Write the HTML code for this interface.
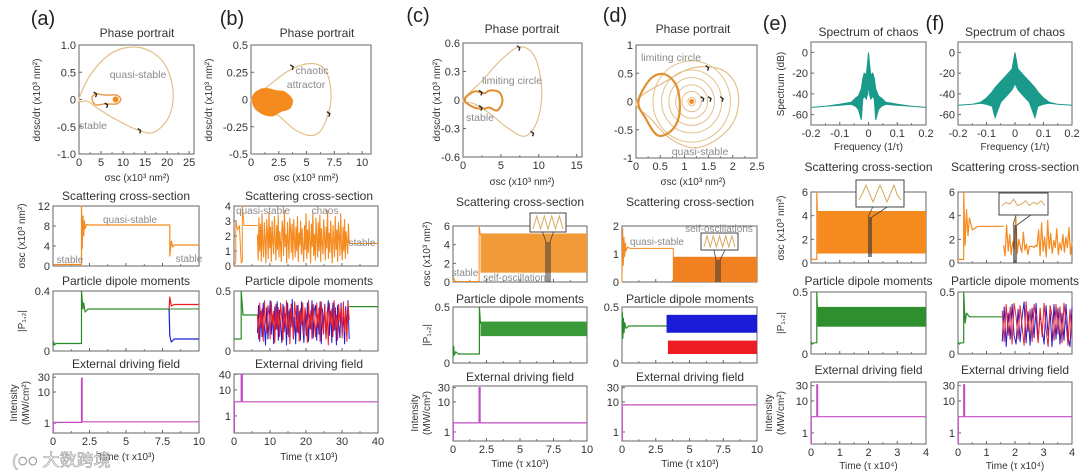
<!DOCTYPE html>
<html><head><meta charset="utf-8">
<style>
html,body{margin:0;padding:0;background:#fff;}
svg{display:block;font-family:"Liberation Sans","Noto Sans CJK SC",sans-serif;}
</style></head>
<body>
<svg id="fig" width="1080" height="475" viewBox="0 0 1080 475" xmlns="http://www.w3.org/2000/svg">
<rect width="1080" height="475" fill="#fff"/>
</svg>
<script>
// ---------- DATA ----------
const aLoopX=[0,3,8,14,19,21.3,20.5,17,13,8,4,2];
const aLoopY=[0,0.5,0.88,0.95,0.7,0.2,-0.3,-0.6,-0.55,-0.35,-0.15,-0.03];
const aSmallX=[3,4,6,8.5,9.5,8.5,6,4,3.2];
const aSmallY=[0.05,0.1,0.08,0.08,0,-0.08,-0.08,-0.1,-0.05];
const bLoopX=[0,1.5,3.5,5.5,6.8,7.2,6.5,5.5,4,2.5,1];
const bLoopY=[0,0.12,0.27,0.33,0.25,0.0,-0.25,-0.33,-0.28,-0.15,-0.05];
const bBlobX=[0.15,0.8,1.5,2.3,3.0,3.7,3.5,2.7,1.9,1.0,0.3];
const bBlobY=[0.03,0.09,0.1,0.08,0.07,0.0,-0.08,-0.11,-0.15,-0.13,-0.07];
const cLoopX=[0,2.5,5,7.5,9.5,10.4,9.8,8.2,6,3.5,1.5];
const cLoopY=[0,0.2,0.42,0.56,0.45,0.1,-0.22,-0.38,-0.3,-0.14,-0.04];
const cLimX=[0.2,1.5,2.8,3.5,4.8,5.2,4.5,3.5,2.8,1.5];
const cLimY=[0,0.09,0.07,0.1,0.08,-0.02,-0.11,-0.08,-0.09,-0.08];
const dLoopX=[0,0.6,1.2,1.8,2.1,2.05,1.7,1.2,0.7,0.3];
const dLoopY=[0,0.35,0.6,0.55,0.2,-0.3,-0.65,-0.82,-0.65,-0.3];
const dLimX=[0.05,0.3,0.6,0.85,0.9,0.75,0.45,0.2];
const dLimY=[0,0.4,0.48,0.25,-0.2,-0.5,-0.6,-0.3];
const dRings=[0.08,0.2,0.33,0.47,0.62,0.8];
const eF=[-0.2,-0.15,-0.1,-0.06,-0.045,-0.035,-0.025,-0.02,-0.015,-0.008,-0.003,0,0.003,0.008,0.015,0.02,0.025,0.035,0.045,0.06,0.1,0.15,0.2];
const eUp=[-53,-52,-50,-48,-44,-42,-35,-25,-20,-22,-10,0,-10,-22,-20,-25,-35,-42,-44,-48,-50,-52,-53];
const eLo=[-53,-52,-51,-50,-52,-55,-65,-45,-42,-45,-40,-30,-40,-45,-42,-45,-65,-55,-52,-50,-51,-52,-53];
const fF=[-0.2,-0.15,-0.12,-0.1,-0.08,-0.07,-0.05,-0.03,-0.01,0,0.01,0.03,0.05,0.07,0.08,0.1,0.12,0.15,0.2];
const fUp=[-51,-50,-48,-44,-38,-34,-28,-22,-16,0,-16,-22,-28,-34,-38,-44,-48,-50,-51];
const fLo=[-51,-50,-49,-50,-52,-63,-48,-42,-36,-30,-36,-42,-48,-63,-52,-50,-49,-50,-51];
const aScT=[0,1.95,1.95,2.0,2.05,2.1,2.15,2.2,2.3,2.5,8.0,8.0,8.1,8.2,8.3,10];
const aScV=[0.3,0.3,12,3.5,10,6,9,7.5,8.3,8.2,8.2,2,5,3.8,4.2,4.2];
const aPT=[0,0.05,0.1,0.2,1.95,1.95,2.05,2.1,2.2,2.4,7.95];
const aPV=[0.03,0.06,0.04,0.05,0.05,0.4,0.28,0.32,0.26,0.28,0.28];
const aRedT=[7.95,8.0,8.1,8.3,10];const aRedV=[0.28,0.36,0.3,0.31,0.31];
const aBluT=[7.95,8.0,8.1,8.3,10];const aBluV=[0.28,0.1,0.06,0.08,0.08];
const aFT=[0,0.02,0.02,1.95,1.95,2.0,2.0,10];const aFV=[0.5,0.5,1.05,1.05,28,28,1.1,1.1];
const bScT=[0,0.5,0.5,1,1.5,2,2.3,2.3,2.8,6.5];const bScV=[0,0.3,3,2.4,2.7,0.2,0.3,4,2.7,2.7];
const bChaos=[2.1,0.4,3.2,1.0,2.8,0.3,3.5,1.4,0.6,2.9,1.8,0.2,3.1,2.2,0.5,3.6,1.2,2.6,0.3,3.0,1.7,0.8,3.3,2.0,0.4,2.7,1.1,3.4,0.6,2.3,1.5,0.3,3.0,2.5,0.7,3.7,1.3,2.1,0.2,2.9,1.6,0.5,3.2,2.4,0.9,2.8,0.4,3.1,1.9,0.6,2.6,1.0,3.3,0.3,2.2,1.4,3.0,0.8,2.5,1.2,
 0.3,2.7,1.1,3.5,0.5,2.4,0.9,3.0,1.6,0.2,2.8,1.3,3.6,0.7,2.1,0.4,3.2,1.8,0.6,2.9,1.0,3.4,0.3,2.5,1.5,0.8,3.1,2.0,0.4,2.6,1.2,3.7,0.5,2.2,0.9,3.0,1.4,0.2,2.7,1.7,0.6,3.3,1.1,2.4,0.3,2.9,1.9,0.7,3.5,1.3,0.4,2.6,1.0,3.1,0.5,2.3,1.6,0.8,2.8,1.5];
const bTailT=[32,40];const bTailV=[1.5,1.5];
const bPT=[0,2,2,2.5,6.5];const bPV=[0.1,0.1,0.5,0.3,0.3];
const bPTailT=[32,40];const bPTailV=[0.37,0.37];
const bRed=[0.3,0.1,0.4,0.2,0.35,0.08,0.42,0.25,0.15,0.38,0.3,0.1,0.41,0.22,0.33,0.07,0.39,0.18,0.36,0.12,0.4,0.28,0.09,0.37,0.2,0.42,0.14,0.33,0.06,0.39,0.25,0.11,0.41,0.3,0.16,0.38,0.08,0.35,0.22,0.4,0.13,0.36,0.27,0.07,0.42,0.19,0.34,0.1,0.39,0.24,
 0.12,0.4,0.2,0.36,0.08,0.41,0.27,0.14,0.38,0.1,0.33,0.05,0.4,0.22,0.35,0.12,0.42,0.18,0.3,0.09,0.39,0.24,0.37,0.11,0.41,0.16,0.34,0.08,0.4,0.26];
const bBlue=[0.15,0.38,0.08,0.33,0.12,0.4,0.2,0.05,0.36,0.1,0.25,0.42,0.14,0.3,0.06,0.37,0.18,0.41,0.09,0.34,0.22,0.07,0.39,0.16,0.31,0.05,0.4,0.12,0.35,0.2,0.43,0.1,0.28,0.06,0.38,0.15,0.33,0.09,0.41,0.21,0.07,0.36,0.13,0.4,0.08,0.3,0.18,0.42,0.11,0.34,
 0.38,0.09,0.3,0.14,0.41,0.06,0.35,0.2,0.39,0.1,0.28,0.42,0.13,0.33,0.07,0.4,0.17,0.36,0.05,0.38,0.22,0.11,0.4,0.15,0.31,0.06,0.37,0.19,0.42,0.1];
const bFT=[0,0.1,0.1,2,2,2.3,2.3,40];const bFV=[0.25,0.25,3.5,3.5,40,40,3.5,3.5];
const cScT=[0,0.05,0.15,0.3,1.95,1.95,2.05];const cScV=[0,0.4,0.1,0.05,0.05,6,5];
const cScBand=[2.05,10,1.0,5.2];
const cPT=[0,0.05,0.1,0.2,0.4,1.97,1.97,2.05];const cPV=[0.05,0.15,0.07,0.1,0.08,0.08,0.5,0.35];
const cPBand=[2.05,10,0.24,0.37];
const cFT=[0,0.02,0.02,1.95,1.95,2.02,2.02,10];const cFV=[0.5,0.5,2,2,30,30,2,2];
const dScT=[0,0.05,0.1,0.15,0.2,0.25,0.3,0.4,0.6,3.8,3.8];const dScV=[0,1.9,0.6,1.6,0.9,1.4,1.1,1.25,1.2,1.2,0];
const dScBand=[3.8,10,0,0.9];
const dPT=[0,0.03,0.06,0.1,0.15,0.2,0.3,0.5,3.3];const dPV=[0.3,0.45,0.22,0.4,0.27,0.36,0.31,0.33,0.33];
const dBlueBand=[3.3,10,0.27,0.43];const dRedBand=[3.4,10,0.08,0.2];
const dFT=[0,0.02,0.02,10];const dFV=[0.5,0.5,8,8];
const eScT=[0,0.2,0.2,0.22];const eScV=[0.3,0.3,6,4.4];
const eScBand=[0.22,4,0.8,4.4];
const ePT=[0,0.05,0.1,0.2,0.2,0.22];const ePV=[0.1,0.08,0.09,0.09,0.5,0.38];
const ePBand=[0.22,4,0.22,0.38];
const eFT=[0,0.01,0.01,0.2,0.2,0.23,0.23,4];const eFV=[0.45,0.45,3.2,3.2,32,32,3.2,3.2];
const fScT=[0,0.2,0.2,0.25,0.3,0.35,0.4,0.5,0.7,1.6];const fScV=[0.3,0.3,6,1.5,4.5,2.3,3.8,2.8,3.1,3.1];
const fChaos=[1.5,0.6,3.2,1.0,2.4,0.7,1.8,1.2,3.9,0.8,2.0,1.4,0.9,2.6,1.1,1.6,0.7,1.4,1.4,1.4,1.3,1.5,1.4,2.8,0.6,3.4,1.0,2.2,0.5,3.6,1.2,2.5,0.8,1.9,1.3,2.9,0.7,1.7,1.1,2.4,0.9,2.2,1.3,3.0,0.7,1.8];
const fPT=[0,0.05,0.1,0.2,0.2,0.25,0.3,0.4,1.55];const fPV=[0.1,0.08,0.09,0.09,0.5,0.25,0.33,0.3,0.3];
const fRed=[0.35,0.1,0.4,0.15,0.38,0.08,0.41,0.3,0.12,0.39,0.22,0.07,0.42,0.18,0.36,0.1,0.4,0.28,0.09,0.37,0.14,0.41,0.2,0.06,0.39,0.31,0.11,0.4,0.16,0.38,0.09,0.41,0.25,0.07,0.36,0.12];
const fBlue=[0.1,0.38,0.06,0.33,0.12,0.4,0.15,0.08,0.36,0.1,0.3,0.42,0.09,0.34,0.07,0.37,0.13,0.41,0.1,0.32,0.2,0.08,0.39,0.15,0.35,0.06,0.4,0.12,0.37,0.08,0.33,0.11,0.4,0.14,0.06,0.38];
const fFT=[0,0.01,0.01,0.2,0.2,0.23,0.23,4];const fFV=[0.45,0.45,3.2,3.2,32,32,3.2,3.2];

// ---------- DRAWING ----------
const NS='http://www.w3.org/2000/svg';
const svg=document.getElementById('fig');
function mk(tag,name,attrs){
  const e=document.createElementNS(NS,tag);
  
  
  for(const k in attrs) e.setAttribute(k,attrs[k]);
  svg.appendChild(e);return e;
}
function txt(s,x,y,size,name,opt){
  opt=opt||{};
  const e=mk('text',name,{x:x,y:y,'font-size':size,fill:opt.fill||'#333','text-anchor':opt.anchor||'middle'});
  if(opt.rot) e.setAttribute('transform','rotate(-90 '+x+' '+y+')');
  if(opt.stroke){e.setAttribute('stroke',opt.stroke);e.setAttribute('stroke-width','0.6');}
  e.textContent=s;return e;
}
function axes(name,b,xr,yr,xt,xl,yt,yl,log,showX){
  const X=v=>b[0]+(v-xr[0])/(xr[1]-xr[0])*(b[2]-b[0]);
  const Y=log?(v=>b[3]-(Math.log10(v)-Math.log10(yr[0]))/(Math.log10(yr[1])-Math.log10(yr[0]))*(b[3]-b[1]))
            :(v=>b[3]-(v-yr[0])/(yr[1]-yr[0])*(b[3]-b[1]));
  mk('rect',name+'-frame',{x:b[0],y:b[1],width:b[2]-b[0],height:b[3]-b[1],fill:'none',stroke:'#666','stroke-width':1});
  xt.forEach((v,i)=>{
    const x=X(v);
    mk('line',name+'-x-tick',{x1:x,x2:x,y1:b[3],y2:b[3]-3,stroke:'#666','stroke-width':1});
    if(i<xt.length-1){const xm=X((v+xt[i+1])/2);mk('line',name+'-x-minor-tick',{x1:xm,x2:xm,y1:b[3],y2:b[3]-2,stroke:'#666','stroke-width':0.8});}
    if(showX) txt(xl[i],x,b[3]+12,11,name+'-x-tick-label');
  });
  yt.forEach((v,i)=>{
    const y=Y(v);
    mk('line',name+'-y-tick',{x1:b[0],x2:b[0]+3,y1:y,y2:y,stroke:'#666','stroke-width':1});
    txt(yl[i],b[0]-3,y+4,11,name+'-y-tick-label',{anchor:'end'});
  });
  return {X,Y,b};
}
function line(ax,ts,vs,color,w,name){
  const d=ts.map((t,i)=>(i?'L':'M')+ax.X(t).toFixed(1)+','+ax.Y(vs[i]).toFixed(1)).join('');
  mk('path',name,{d:d,fill:'none',stroke:color,'stroke-width':w,'stroke-linejoin':'round'});
}
function seq(ax,t0,t1,vs,color,w,name){
  const ts=vs.map((v,i)=>t0+(t1-t0)*i/(vs.length-1));
  line(ax,ts,vs,color,w,name);
}
function band(ax,bd,color,name){
  mk('rect',name,{x:ax.X(bd[0]),y:ax.Y(bd[3]),width:ax.X(bd[1])-ax.X(bd[0]),height:ax.Y(bd[2])-ax.Y(bd[3]),fill:color});
}
function smooth(ax,xs,ys,color,w,name,fill){
  const p=xs.map((x,i)=>[ax.X(x),ax.Y(ys[i])]);const n=p.length;
  let d='M'+p[0][0]+','+p[0][1];
  for(let i=0;i<n;i++){
    const p0=p[(i-1+n)%n],p1=p[i],p2=p[(i+1)%n],p3=p[(i+2)%n];
    const c1=[p1[0]+(p2[0]-p0[0])/6,p1[1]+(p2[1]-p0[1])/6];
    const c2=[p2[0]-(p3[0]-p1[0])/6,p2[1]-(p3[1]-p1[1])/6];
    d+='C'+c1.join(',')+' '+c2.join(',')+' '+p2.join(',');
  }
  mk('path',name,{d:d+'Z',fill:fill||'none',stroke:color,'stroke-width':w});
}
function spec(ax,fs,up,lo,name){
  let d=fs.map((f,i)=>(i?'L':'M')+ax.X(f).toFixed(1)+','+ax.Y(up[i]).toFixed(1)).join('');
  for(let i=fs.length-1;i>=0;i--) d+='L'+ax.X(fs[i]).toFixed(1)+','+ax.Y(lo[i]).toFixed(1);
  mk('path',name,{d:d+'Z',fill:'#1a9a8a',stroke:'#1a9a8a','stroke-width':1});
}
function inset(name,x0,y0,x1,y1,cx,wave){
  mk('line',name+'-conn-left',{x1:x0+(x1-x0)*0.35,y1:y1,x2:cx-2,y2:y1+10,stroke:'#444','stroke-width':0.8});
  mk('line',name+'-conn-right',{x1:x0+(x1-x0)*0.65,y1:y1,x2:cx+2,y2:y1+10,stroke:'#444','stroke-width':0.8});
  mk('rect',name+'-box',{x:x0,y:y0,width:x1-x0,height:y1-y0,fill:'#fff',stroke:'#444','stroke-width':1});
  let d='';const n=wave.length;
  wave.forEach((v,i)=>{d+=(i?'L':'M')+(x0+3+(x1-x0-6)*i/(n-1)).toFixed(1)+','+(y0+3+(y1-y0-6)*(1-v)).toFixed(1);});
  mk('path',name+'-wave',{d:d,fill:'none',stroke:'#d8a860','stroke-width':1});
}
function marker(x,y,name){mk('path',name,{d:'M'+(x-3)+','+(y-2)+'L'+x+','+y+'L'+(x-1)+','+(y+3),fill:'none',stroke:'#222','stroke-width':1.3});}

const LOOP='#e3c08a',ORG='#f58a1f',GRN='#2a8a2a',RED='#ee1c24',BLU='#1c1cd8',MAG='#c44cc4',ANN='#8a8a8a';
const timeT10=[0,2.5,5,7.5,10],timeL10=['0','2.5','5','7.5','10'];

[['(a)',43,25],['(b)',232,25],['(c)',418,22],['(d)',615,22],['(e)',775,30],['(f)',935,30]].forEach(p=>txt(p[0],p[1],p[2],20,'panel-label-'+p[0][1],{fill:'#222'}));

// ===== (a) =====
txt('Phase portrait',137,37,12,'a-phase-title');
let A=axes('a-phase',[79,45,194,154],[0,26.1],[-1,1],[0,5,10,15,20,25],['0','5','10','15','20','25'],[-1,-0.5,0,0.5,1],['-1.0','-0.5','0','0.5','1.0'],false,true);
smooth(A,aLoopX,aLoopY,LOOP,1.2,'a-phase-loop');
smooth(A,aSmallX,aSmallY,'#e8a050',1.5,'a-phase-small-loop');
mk('circle','a-quasi-point',{cx:A.X(8.3),cy:A.Y(0),r:3,fill:ORG});
marker(A.X(4),A.Y(0.1),'a-arrow-1');marker(A.X(6.5),A.Y(-0.1),'a-arrow-2');marker(A.X(14),A.Y(-0.57),'a-arrow-3');
txt('quasi-stable',138,78,10.5,'a-quasi-stable-label',{fill:ANN});
txt('stable',93,129,10.5,'a-stable-label',{fill:ANN});
txt('σsc (x10³ nm²)',137,181,10,'a-phase-x-title');
txt('dσsc/dτ (x10³ nm²)',40,100,10,'a-phase-y-title',{rot:true});
txt('Scattering cross-section',126,200,12,'a-scat-title');
A=axes('a-scat',[53,206,199,266],[0,10],[0,12],timeT10,timeL10,[0,4,8,12],['0','4','8','12'],false,false);
line(A,aScT,aScV,ORG,1.2,'a-scat-line');
txt('stable',70,263,10,'a-stable-1',{fill:ANN});txt('quasi-stable',130,223,10,'a-quasi-stable',{fill:ANN});txt('stable',189,262,10,'a-stable-2',{fill:ANN});
txt('σsc (x10³ nm²)',25,236,10,'a-scat-y-title',{rot:true});
txt('Particle dipole moments',126,285,12,'a-dip-title');
A=axes('a-dip',[53,291,199,351],[0,10],[0,0.4],timeT10,timeL10,[0,0.4],['0','0.4'],false,false);
line(A,aPT,aPV,GRN,1.2,'a-dip-green');line(A,aRedT,aRedV,RED,1.2,'a-dip-red');line(A,aBluT,aBluV,BLU,1.2,'a-dip-blue');
line(A,[7.95,10],[0.28,0.28],GRN,1,'a-dip-green-tail');
txt('|P₁,₂|',25,321,10,'a-dip-y-title',{rot:true});
txt('External driving field',126,368,12,'a-field-title');
A=axes('a-field',[53,374,199,433],[0,10],[0.48,38],timeT10,timeL10,[1,10,30],['1','10','30'],true,true);
line(A,aFT,aFV,MAG,1.2,'a-field-line');
txt('Intensity',17,403,10,'a-field-y-title',{rot:true});txt('(MW/cm²)',29,403,10,'a-field-y-title-2',{rot:true});
txt('Time (τ x10³)',126,460,10,'a-time-title');

// ===== (b) =====
txt('Phase portrait',317,37,12,'b-phase-title');
A=axes('b-phase',[251,45,371,154],[0,10.8],[-0.5,0.5],[0,2.5,5,7.5,10],['0','2.5','5','7.5','10'],[-0.5,-0.25,0,0.25,0.5],['-0.5','-0.25','0','0.25','0.5'],false,true);
smooth(A,bLoopX,bLoopY,LOOP,1.2,'b-phase-loop');
smooth(A,bBlobX,bBlobY,ORG,1,'b-chaotic-attractor',ORG);
marker(A.X(3.8),A.Y(0.3),'b-arrow-1');marker(A.X(7.1),A.Y(-0.13),'b-arrow-2');
txt('chaotic',312,74,10.5,'b-chaotic-label',{fill:ANN});txt('attractor',306,88,10.5,'b-attractor-label',{fill:ANN});
txt('σsc (x10³ nm²)',306,181,10,'b-phase-x-title');
txt('dσsc/dτ (x10³ nm²)',212,100,10,'b-phase-y-title',{rot:true});
txt('Scattering cross-section',309,200,12,'b-scat-title');
A=axes('b-scat',[234,206,378,266],[0,40],[0,4],[0,10,20,30,40],['0','10','20','30','40'],[0,1,2,3,4],['0','1','2','3','4'],false,false);
line(A,bScT,bScV,ORG,1,'b-scat-line');seq(A,6.5,32,bChaos,ORG,1.1,'b-scat-chaos');line(A,bTailT,bTailV,ORG,1,'b-scat-tail');
txt('quasi-stable',263,214,10,'b-quasi-stable',{fill:ANN});txt('chaos',325,214,10,'b-chaos',{fill:ANN});txt('stable',362,246,10,'b-stable',{fill:ANN});
txt('Particle dipole moments',309,285,12,'b-dip-title');
A=axes('b-dip',[234,291,378,351],[0,40],[0,0.5],[0,10,20,30,40],['0','10','20','30','40'],[0,0.5],['0','0.5'],false,false);
line(A,bPT,bPV,GRN,1.2,'b-dip-green');line(A,bPTailT,bPTailV,GRN,1.2,'b-dip-green-tail');
seq(A,6.5,32,bBlue,BLU,1,'b-dip-blue');seq(A,6.5,32,bRed,RED,1,'b-dip-red');
txt('External driving field',309,368,12,'b-field-title');
A=axes('b-field',[234,374,378,433],[0,40],[0.22,41],[0,10,20,30,40],['0','10','20','30','40'],[1,10,40],['1','10','40'],true,true);
line(A,bFT,bFV,MAG,1.2,'b-field-line');
txt('Time (τ x10³)',309,460,10,'b-time-title');

// ===== (c) =====
txt('Phase portrait',522,33,12,'c-phase-title');
A=axes('c-phase',[463,43,582,157],[0,15.7],[-0.6,0.6],[0,5,10,15],['0','5','10','15'],[-0.6,-0.3,0,0.3,0.6],['-0.6','-0.3','0','0.3','0.6'],false,true);
smooth(A,cLoopX,cLoopY,LOOP,1.2,'c-phase-loop');
smooth(A,cLimX,cLimY,'#e09030',2,'c-limiting-circle');
marker(A.X(7.5),A.Y(0.55),'c-arrow-1');marker(A.X(9.3),A.Y(-0.35),'c-arrow-2');marker(A.X(2.5),A.Y(0.08),'c-arrow-3');marker(A.X(2.5),A.Y(-0.08),'c-arrow-4');
txt('limiting circle',512,84,10.5,'c-limiting-label',{fill:ANN});txt('stable',480,121,10.5,'c-stable-label',{fill:ANN});
txt('σsc (x10³ nm²)',522,185,10,'c-phase-x-title');
txt('dσsc/dτ (x10³ nm²)',440,100,10,'c-phase-y-title',{rot:true});
txt('Scattering cross-section',520,206,12,'c-scat-title');
A=axes('c-scat',[453,226,587,282],[0,10],[0,6],timeT10,timeL10,[0,2,4,6],['0','2','4','6'],false,false);
line(A,cScT,cScV,ORG,1,'c-scat-line');band(A,cScBand,'#f29a38','c-scat-oscillation-band');
inset('c-inset',530,213,566,232,548,[0,1,0,1,0,1,0,1,0]);
mk('rect','c-inset-marker',{x:545,y:242,width:6,height:40,fill:'#333',opacity:0.5});
txt('stable',465,276,10,'c-stable',{fill:ANN});txt('self-oscillations',517,281,10,'c-self-osc',{fill:ANN});
txt('σsc (x10³ nm²)',430,254,10,'c-scat-y-title',{rot:true});
txt('Particle dipole moments',520,303,12,'c-dip-title');
A=axes('c-dip',[453,307,587,363],[0,10],[0,0.5],timeT10,timeL10,[0,0.5],['0','0.5'],false,false);
line(A,cPT,cPV,GRN,1.2,'c-dip-green');band(A,cPBand,'#3a9a3a','c-dip-band');
txt('|P₁,₂|',430,335,10,'c-dip-y-title',{rot:true});
txt('External driving field',520,381,12,'c-field-title');
A=axes('c-field',[453,386,587,441],[0,10],[0.5,34],timeT10,timeL10,[1,10,30],['1','10','30'],true,true);
line(A,cFT,cFV,MAG,1.2,'c-field-line');
txt('Intensity',418,413,10,'c-field-y-title',{rot:true});txt('(MW/cm²)',430,413,10,'c-field-y-title-2',{rot:true});
txt('Time (τ x10³)',520,467,10,'c-time-title');

// ===== (d) =====
txt('Phase portrait',693,33,12,'d-phase-title');
A=axes('d-phase',[636,45,757,158],[0,2.5],[-1,1],[0,0.5,1,1.5,2,2.5],['0','0.5','1','1.5','2','2.5'],[-1,-0.5,0,0.5,1],['-1','-0.5','0','0.5','1'],false,true);
smooth(A,dLoopX,dLoopY,LOOP,1.2,'d-phase-loop');
dRings.forEach((r,i)=>mk('ellipse','d-spiral-ring',{cx:A.X(1.15),cy:A.Y(0),rx:A.X(r)-A.X(0),ry:A.Y(0)-A.Y(r*0.9),fill:'none',stroke:LOOP,'stroke-width':1}));
mk('circle','d-quasi-point',{cx:A.X(1.15),cy:A.Y(0),r:2.5,fill:ORG});
smooth(A,dLimX,dLimY,'#e09030',2.2,'d-limiting-circle');
marker(A.X(1.4),A.Y(0.05),'d-arrow-1');marker(A.X(1.55),A.Y(0.05),'d-arrow-2');marker(A.X(1.8),A.Y(0.05),'d-arrow-3');marker(A.X(1.5),A.Y(0.6),'d-arrow-4');
txt('limiting circle',671,61,10.5,'d-limiting-label',{fill:ANN});txt('quasi-stable',700,155,10.5,'d-quasi-stable-label',{fill:ANN});
txt('σsc (x10³ nm²)',693,185,10,'d-phase-x-title');
txt('Scattering cross-section',690,206,12,'d-scat-title');
A=axes('d-scat',[622,226,757,282],[0,10],[0,2],timeT10,timeL10,[0,1,2],['0','1','2'],false,false);
line(A,dScT,dScV,ORG,1,'d-scat-line');band(A,dScBand,'#f08020','d-scat-oscillation-band');
inset('d-inset',701,233,738,250,718,[0,1,0,1,0,1,0,1,0,1,0]);
mk('rect','d-inset-marker',{x:715,y:260,width:6,height:22,fill:'#333',opacity:0.5});
txt('quasi-stable',657,245,10,'d-quasi-stable',{fill:ANN});txt('self-oscillations',719,232,10,'d-self-osc',{fill:ANN});
txt('Particle dipole moments',690,303,12,'d-dip-title');
A=axes('d-dip',[622,307,757,363],[0,10],[0,0.5],timeT10,timeL10,[0,0.5],['0','0.5'],false,false);
line(A,dPT,dPV,GRN,1.2,'d-dip-green');band(A,dBlueBand,BLU,'d-dip-blue-band');band(A,dRedBand,RED,'d-dip-red-band');
txt('External driving field',690,381,12,'d-field-title');
A=axes('d-field',[622,386,757,441],[0,10],[0.5,34],timeT10,timeL10,[1,10,30],['1','10','30'],true,true);
line(A,dFT,dFV,MAG,1.2,'d-field-line');
txt('Time (τ x10³)',690,467,10,'d-time-title');

// ===== (e),(f) =====
const fT=[-0.2,-0.1,0,0.1,0.2],fL=['-0.2','-0.1','0','0.1','0.2'];
[['e',811,926,eF,eUp,eLo,eScT,eScV,ePT,ePV,eFT,eFV],['f',958,1072,fF,fUp,fLo,fScT,fScV,fPT,fPV,fFT,fFV]].forEach(P=>{
  const k=P[0],x0=P[1],x1=P[2],cx=(x0+x1)/2;
  txt('Spectrum of chaos',cx,36,12,k+'-spec-title');
  let S=axes(k+'-spec',[x0,42,x1,125],[-0.2,0.2],[-70,10],fT,fL,[0,-20,-40,-60],['0','-20','-40','-60'],false,true);
  spec(S,P[3],P[4],P[5],k+'-spectrum');
  txt('Frequency (1/τ)',cx,150,10,k+'-spec-x-title');
  txt('Scattering cross-section',cx,171,12,k+'-scat-title');
  S=axes(k+'-scat',[x0,192,x1,263],[0,4],[0,6],[0,1,2,3,4],['0','1','2','3','4'],[0,2,4,6],['0','2','4','6'],false,false);
  line(S,P[6],P[7],ORG,1.2,k+'-scat-line');
  if(k==='e'){band(S,eScBand,'#f58a1f','e-scat-band');inset('e-inset',856,180,904,207,870,[0.2,0.5,0.9,0.5,0.1,0.5,0.9,0.5,0.1,0.5,0.9,0.4,0.2]);
    mk('rect','e-inset-marker',{x:868,y:217,width:4,height:40,fill:'#333',opacity:0.6});}
  else{seq(S,1.6,4,fChaos,ORG,1.2,'f-scat-chaos');inset('f-inset',999,193,1048,215,1015,[0.4,0.6,0.5,0.8,0.4,0.5,0.7,0.4,0.6,0.5,0.7,0.4]);
    mk('rect','f-inset-marker',{x:1013,y:225,width:4,height:38,fill:'#333',opacity:0.6});}
  txt('Particle dipole moments',cx,285,12,k+'-dip-title');
  S=axes(k+'-dip',[x0,292,x1,354],[0,4],[0,0.5],[0,1,2,3,4],['0','1','2','3','4'],[0,0.5],['0','0.5'],false,false);
  line(S,P[8],P[9],GRN,1.2,k+'-dip-green');
  if(k==='e') band(S,ePBand,'#2f8f2f','e-dip-band');
  else{seq(S,1.55,4,fBlue,BLU,1,'f-dip-blue');seq(S,1.55,4,fRed,RED,1,'f-dip-red');}
  txt('External driving field',cx,374,12,k+'-field-title');
  S=axes(k+'-field',[x0,382,x1,444],[0,4],[0.45,39],[0,1,2,3,4],['0','1','2','3','4'],[1,10,30],['1','10','30'],true,true);
  line(S,P[10],P[11],MAG,1.2,k+'-field-line');
  txt('Time (τ x10⁴)',cx,469,10,k+'-time-title');
});
txt('Spectrum (dB)',784,84,10,'e-spec-y-title',{rot:true});
txt('σsc (x10³ nm²)',784,228,10,'e-scat-y-title',{rot:true});
txt('|P₁,₂|',784,323,10,'e-dip-y-title',{rot:true});
txt('Intensity',772,413,10,'e-field-y-title',{rot:true});txt('(MW/cm²)',784,413,10,'e-field-y-title-2',{rot:true});

txt('(◌◌ 大数跨境',12,466,17,'watermark',{anchor:'start',fill:'#fff',stroke:'#999'});
</script>
</body></html>
